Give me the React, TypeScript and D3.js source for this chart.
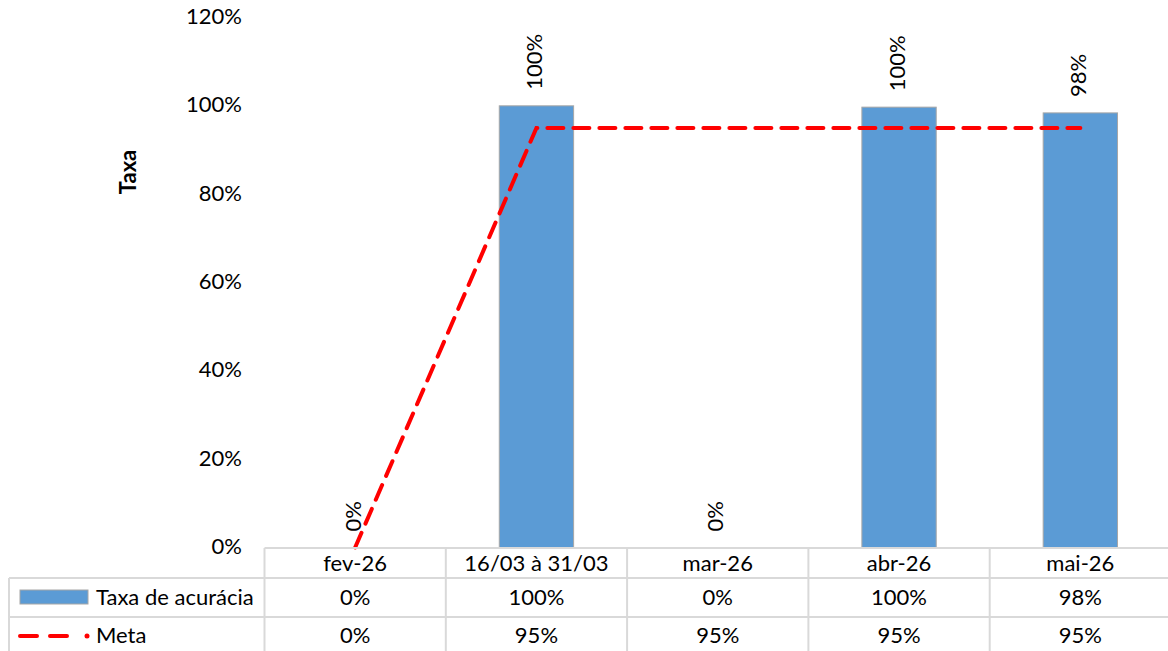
import React from "react";
import * as d3 from "d3";

const categories = ["fev-26", "16/03 à 31/03", "mar-26", "abr-26", "mai-26"];
const taxa = [0, 1.0, 0, 0.997, 0.984];
const taxaLabels = ["0%", "100%", "0%", "100%", "98%"];
const meta = [0, 0.95, 0.95, 0.95, 0.95];
const metaLabels = ["0%", "95%", "95%", "95%", "95%"];
const yTicks = [0, 0.2, 0.4, 0.6, 0.8, 1.0, 1.2];

const W = 1168;
const H = 651;
const FONT = "Lato, 'Open Sans', sans-serif";
const FS = 22;
const GRID = "#D9D9D9";
const BLUE = "#5B9BD5";
const RED = "#FF0000";

export default function App() {
  const x = d3.scaleBand<string>().domain(categories).range([264.5, 1171]).padding(0);
  const y = d3.scaleLinear().domain([0, 1.2]).range([547.5, 17.5]);
  const step = x.step();
  const barW = step * 0.41;
  const cx = (c: string) => (x(c) as number) + step / 2;

  const line = d3
    .line<number>()
    .x((_, i) => cx(categories[i]))
    .y((d) => y(d));

  const rowTop = 548;
  const row1 = 578;
  const row2 = 617;

  return (
    <svg
      width={W}
      height={H}
      style={{ position: "absolute", left: 0, top: 0, background: "#fff" }}
      fontFamily={FONT}
    >
      {/* y tick labels */}
      {yTicks.map((t) => (
        <text
          key={t}
          x={242}
          y={y(t) + 1}
          textAnchor="end"
          dominantBaseline="middle"
          fontSize={FS}
          fill="#000"
        >
          {d3.format(".0%")(t)}
        </text>
      ))}
      {/* y axis title */}
      <text
        transform={`translate(130,172) rotate(-90)`}
        textAnchor="middle"
        dominantBaseline="middle"
        fontSize={FS}
        fontWeight="bold"
      >
        Taxa
      </text>

      {/* bars */}
      {categories.map((c, i) =>
        taxa[i] > 0 ? (
          <rect
            key={c}
            x={cx(c) - barW / 2}
            y={y(taxa[i])}
            width={barW}
            height={y(0) - y(taxa[i])}
            fill={BLUE}
            stroke="#A6A6A6"
            strokeWidth={1}
          />
        ) : null
      )}

      {/* data labels */}
      {categories.map((c, i) => (
        <text
          key={c}
          transform={`translate(${cx(c)},${y(taxa[i]) - 16}) rotate(-90)`}
          textAnchor="start"
          dominantBaseline="middle"
          fontSize={FS}
        >
          {taxaLabels[i]}
        </text>
      ))}

      {/* meta line */}
      <path
        d={line(meta) as string}
        fill="none"
        stroke={RED}
        strokeWidth={4}
        strokeDasharray="16 10"
        strokeLinecap="round"
      />

      {/* table grid */}
      <line x1={264.5} x2={W} y1={rowTop} y2={rowTop} stroke={GRID} strokeWidth={2} />
      <line x1={9} x2={W} y1={row1} y2={row1} stroke={GRID} strokeWidth={2} />
      <line x1={9} x2={W} y1={row2} y2={row2} stroke={GRID} strokeWidth={2} />
      <line x1={9} x2={9} y1={row1} y2={H} stroke={GRID} strokeWidth={2} />
      {categories.map((c) => (
        <line
          key={c}
          x1={x(c) as number}
          x2={x(c) as number}
          y1={rowTop}
          y2={H}
          stroke={GRID}
          strokeWidth={2}
        />
      ))}

      {/* header labels */}
      {categories.map((c) => (
        <text key={c} x={cx(c)} y={565} textAnchor="middle" dominantBaseline="middle" fontSize={FS}>
          {c}
        </text>
      ))}
      {categories.map((c, i) => (
        <text key={c} x={cx(c)} y={599} textAnchor="middle" dominantBaseline="middle" fontSize={FS}>
          {taxaLabels[i]}
        </text>
      ))}
      {categories.map((c, i) => (
        <text key={c} x={cx(c)} y={637} textAnchor="middle" dominantBaseline="middle" fontSize={FS}>
          {metaLabels[i]}
        </text>
      ))}

      {/* legend keys */}
      <rect x={20} y={590} width={68} height={14} fill={BLUE} stroke="#A6A6A6" strokeWidth={1} />
      <text x={96} y={599} dominantBaseline="middle" fontSize={FS}>
        Taxa de acurácia
      </text>
      <line x1={20} x2={68} y1={636} y2={636} stroke={RED} strokeWidth={4} strokeDasharray="17 13" strokeLinecap="round" />
      <circle cx={87} cy={636} r={2.5} fill={RED} />
      <text x={96} y={637} dominantBaseline="middle" fontSize={FS}>
        Meta
      </text>
    </svg>
  );
}
